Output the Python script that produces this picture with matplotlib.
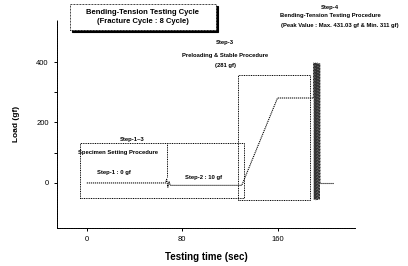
import matplotlib
matplotlib.use("Agg")
import matplotlib.pyplot as plt
from matplotlib.patches import Rectangle

# ---- data ----
time_setup = [0, 66, 67, 68, 69, 70, 130, 160, 190]
load_setup = [0, 0, 12, -14, 4, -8, -8, 281, 281]
cycle_time = [190.0, 190.4, 190.75, 191.1, 191.5, 191.85, 192.2, 192.6, 192.95,
              193.3, 193.7, 194.05, 194.4, 194.8, 195.15, 195.5, 195.9]
cycle_load = [281, 397, -55, 395, -52, 398, -56, 396, -54,
              397, -55, 395, -53, 396, -55, 394, 0]
tail_time = [196, 207]
tail_load = [0, 0]
x_ticks = [0, 80, 160]
y_ticks = [0, 100, 200, 300, 400]
y_ticklabels = ["0", "", "200", "", "400"]

FONT = "Liberation Sans"
plt.rcParams['font.family'] = [FONT, 'DejaVu Sans']

fig = plt.figure(figsize=(4.08, 2.66), dpi=100)
ax = fig.add_axes([57/408, 1-228/266, (355-57)/408, (228-20)/266])
ax.set_xlim(-25, 225)
ax.set_ylim(-149, 539)

ls = (0, (1, 0.8))
ax.plot(time_setup, load_setup, color='black', lw=0.8, ls=ls)
ax.plot(cycle_time, cycle_load, color='#333333', lw=0.6, ls=ls)
ax.plot(tail_time, tail_load, color='black', lw=0.8, ls=ls)

# boxes
for (x0, y0, x1, y1) in [(-6, -50, 132, 132), (127, -55, 187, 357)]:
    ax.add_patch(Rectangle((x0, y0), x1 - x0, y1 - y0, fill=False,
                           ec='black', lw=0.7, ls=ls))
ax.plot([67, 67], [20, 132], color='black', lw=0.7, ls=ls)

for s in ['top', 'right']:
    ax.spines[s].set_visible(False)
for s in ['left', 'bottom']:
    ax.spines[s].set_linestyle(ls)
    ax.spines[s].set_linewidth(0.7)

ax.set_xticks(x_ticks)
ax.set_xticklabels([str(v) for v in x_ticks])
ax.set_yticks(y_ticks)
ax.set_yticklabels(y_ticklabels)
ax.tick_params(labelsize=5.5, length=2, width=0.7, pad=4)
ax.set_xlabel("Testing time (sec)", fontsize=7, fontweight='bold', labelpad=6)
ax.set_ylabel("Load (gf)", fontsize=6, fontweight='bold', labelpad=12)

tk = dict(fontsize=4.2, fontweight='bold', ha='center', va='center')
ax.text(38, 145, "Step-1~3", **tk)
ax.text(26, 102, "Specimen Setting Procedure", **tk)
ax.text(23, 33, "Step-1 : 0 gf", **tk)
ax.text(98, 17, "Step-2 : 10 gf", **tk)
ax.text(116, 463, "Step-3", **tk)
ax.text(116, 423, "Preloading & Stable Procedure", **tk)
ax.text(116, 390, "(281 gf)", **tk)

fig.text(330/408, 1-7/266, "Step-4", **tk)
fig.text(330/408, 1-16/266, "Bending-Tension Testing Procedure", **tk)
fig.text(340/408, 1-25/266, "(Peak Value : Max. 431.03 gf & Min. 311 gf)", **tk)

# title box with shadow
bx0, bx1, by0, by1 = 70/408, 216/408, 1-30/266, 1-4/266
fig.patches.append(Rectangle((bx0 + 2/408, by0 - 2/266), bx1 - bx0, by1 - by0,
                             transform=fig.transFigure, fc='black', ec='black', lw=0.8))
fig.patches.append(Rectangle((bx0, by0), bx1 - bx0, by1 - by0,
                             transform=fig.transFigure, fc='white', ec='black', lw=0.6, ls=ls))
fig.text((bx0 + bx1)/2, 1-12/266, "Bending-Tension Testing Cycle",
         fontsize=5.5, fontweight='bold', ha='center', va='center')
fig.text((bx0 + bx1)/2, 1-22/266, "(Fracture Cycle : 8 Cycle)",
         fontsize=5.5, fontweight='bold', ha='center', va='center')

fig.savefig("out.png", dpi=100)
